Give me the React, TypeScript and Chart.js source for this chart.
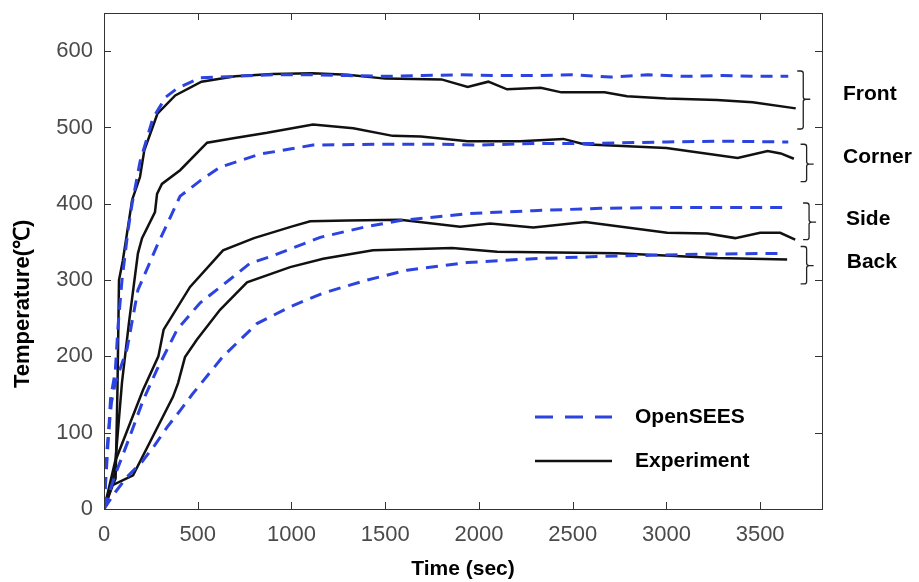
import React, { useEffect, useRef } from 'react';
import { Chart, registerables } from 'chart.js';

Chart.register(...registerables);

const FONT = '"Liberation Sans", Arial, Helvetica, sans-serif';

// ---- Data (time in sec, temperature in °C) ----
const frontSimTime = [0, 20, 35, 60, 75, 96, 128, 150, 192, 261, 330, 389, 512, 700, 900, 1100, 1300, 1500, 1700, 1900, 2100, 2300, 2500, 2700, 2900, 3100, 3300, 3500, 3650];
const frontSimTemp = [0, 80, 145, 180, 240, 300, 365, 400, 455, 512, 540, 551, 565, 567, 569, 569, 568, 567, 568, 569, 568, 568, 569, 566, 569, 567, 568, 567, 567];

const frontExpTime = [0, 45, 62, 72, 80, 100, 150, 192, 215, 285, 380, 520, 700, 900, 1110, 1300, 1500, 1800, 1940, 2050, 2150, 2330, 2440, 2670, 2790, 3000, 3270, 3460, 3690];
const frontExpTemp = [0, 30, 40, 160, 300, 325, 405, 435, 470, 518, 542, 560, 567, 570, 571, 569, 564, 563, 553, 560, 550, 552, 546, 546, 541, 538, 536, 533, 525];

const cornerSimTime = [0, 16, 40, 60, 123, 181, 283, 406, 512, 620, 830, 1000, 1115, 1500, 1800, 2000, 2300, 2600, 3000, 3300, 3650];
const cornerSimTemp = [0, 78, 140, 165, 210, 287, 345, 410, 430, 448, 465, 472, 477, 478, 478, 477, 479, 479, 481, 482, 481];

const cornerExpTime = [0, 55, 96, 133, 181, 203, 272, 283, 309, 406, 550, 690, 870, 1115, 1330, 1540, 1690, 1940, 2220, 2450, 2560, 3000, 3380, 3540, 3610, 3680];
const cornerExpTemp = [0, 45, 166, 244, 335, 355, 389, 413, 426, 444, 480, 486, 493, 504, 499, 489, 488, 482, 482, 485, 478, 473, 460, 469, 466, 459];

const sideSimTime = [0, 60, 130, 208, 283, 390, 512, 688, 779, 902, 1153, 1400, 1580, 1937, 2290, 2647, 3004, 3623];
const sideSimTemp = [0, 45, 90, 142, 183, 235, 270, 304, 322, 332, 356, 370, 378, 387, 391, 394, 395, 395];

const sideExpTime = [0, 59, 208, 290, 318, 459, 635, 800, 1000, 1100, 1300, 1580, 1900, 2060, 2290, 2567, 3004, 3218, 3367, 3500, 3607, 3687];
const sideExpTemp = [0, 62, 156, 200, 235, 291, 339, 355, 370, 377, 378, 379, 370, 374, 369, 376, 362, 361, 355, 362, 362, 353];

const backSimTime = [0, 60, 123, 203, 272, 336, 406, 470, 635, 816, 993, 1169, 1403, 1617, 1937, 2290, 2647, 3180, 3623];
const backSimTemp = [0, 22, 42, 62, 84, 107, 129, 150, 200, 243, 265, 283, 300, 313, 323, 328, 331, 334, 335];

const backExpTime = [0, 43, 155, 368, 395, 432, 496, 619, 763, 993, 1169, 1435, 1580, 1857, 2097, 2737, 3271, 3644];
const backExpTemp = [0, 31, 44, 147, 165, 199, 222, 261, 297, 317, 328, 339, 340, 342, 337, 335, 329, 327];

const xTickValues = [0, 500, 1000, 1500, 2000, 2500, 3000, 3500];
const yTickValues = [0, 100, 200, 300, 400, 500, 600];

// Bracket groups (temperature ranges) and labels
const groupLabels = ['Front', 'Corner', 'Side', 'Back'];
const groupTop = [574, 478, 401, 344];
const groupMid = [537, 452, 376, 319];
const groupBottom = [498, 429, 353, 295];
const groupBracketTime = [3730, 3748, 3761, 3748];
const groupLabelTime = [3942, 3942, 3958, 3962];
const groupLabelTemp = [543, 461, 380, 323];

const legendLabels = ['OpenSEES', 'Experiment'];

const SIM_COLOR = '#2c43e0';
const EXP_COLOR = '#111111';

function toXY(t: number[], v: number[]) {
  return t.map((x, i) => ({ x, y: v[i] }));
}

const decorPlugin = {
  id: 'decor',
  afterDraw(chart: any) {
    const { ctx, chartArea, scales } = chart;
    const xs = scales.x;
    const ys = scales.y;
    const { left, right, top, bottom } = chartArea;
    ctx.save();

    // Frame
    ctx.strokeStyle = '#333333';
    ctx.lineWidth = 1;
    ctx.setLineDash([]);
    ctx.strokeRect(left + 0.5, top + 0.5, right - left, bottom - top);

    // Inward ticks on all sides
    const tl = 7;
    ctx.beginPath();
    xTickValues.forEach((v) => {
      const px = Math.round(xs.getPixelForValue(v)) + 0.5;
      ctx.moveTo(px, bottom);
      ctx.lineTo(px, bottom - tl);
      ctx.moveTo(px, top);
      ctx.lineTo(px, top + tl);
    });
    yTickValues.forEach((v) => {
      const py = Math.round(ys.getPixelForValue(v)) + 0.5;
      ctx.moveTo(left, py);
      ctx.lineTo(left + tl, py);
      ctx.moveTo(right, py);
      ctx.lineTo(right - tl, py);
    });
    ctx.stroke();

    // Brackets and group labels
    ctx.strokeStyle = '#222222';
    ctx.lineWidth = 1.3;
    const r = 2.5;
    groupLabels.forEach((label, i) => {
      const xv = xs.getPixelForValue(groupBracketTime[i]);
      const xsr = xv - 6;
      const xt = xv + 7;
      const yT = ys.getPixelForValue(groupTop[i]);
      const yM = ys.getPixelForValue(groupMid[i]);
      const yB = ys.getPixelForValue(groupBottom[i]);
      ctx.beginPath();
      ctx.moveTo(xsr, yT);
      ctx.lineTo(xv - r, yT);
      ctx.quadraticCurveTo(xv, yT, xv, yT + r);
      ctx.lineTo(xv, yM - r);
      ctx.quadraticCurveTo(xv, yM, xv + r, yM);
      ctx.lineTo(xt, yM);
      ctx.moveTo(xv + r, yM);
      ctx.quadraticCurveTo(xv, yM, xv, yM + r);
      ctx.lineTo(xv, yB - r);
      ctx.quadraticCurveTo(xv, yB, xv - r, yB);
      ctx.lineTo(xsr, yB);
      ctx.stroke();

      ctx.fillStyle = '#000000';
      ctx.font = `bold 21px ${FONT}`;
      ctx.textAlign = 'left';
      ctx.textBaseline = 'middle';
      ctx.fillText(label, xs.getPixelForValue(groupLabelTime[i]), ys.getPixelForValue(groupLabelTemp[i]));
    });

    // Legend (inside plot, no box)
    const lx0 = left + 431;
    const lx1 = left + 508;
    const tx = left + 531;
    const ly1 = top + 404;
    const ly2 = top + 448;
    ctx.lineWidth = 3;
    ctx.strokeStyle = SIM_COLOR;
    ctx.setLineDash([18, 12]);
    ctx.beginPath();
    ctx.moveTo(lx0, ly1);
    ctx.lineTo(lx1, ly1);
    ctx.stroke();
    ctx.setLineDash([]);
    ctx.lineWidth = 2.5;
    ctx.strokeStyle = EXP_COLOR;
    ctx.beginPath();
    ctx.moveTo(lx0, ly2);
    ctx.lineTo(lx1, ly2);
    ctx.stroke();
    ctx.fillStyle = '#000000';
    ctx.font = `bold 21px ${FONT}`;
    ctx.textAlign = 'left';
    ctx.textBaseline = 'middle';
    ctx.fillText(legendLabels[0], tx, ly1);
    ctx.fillText(legendLabels[1], tx, ly2);

    // Y axis title
    ctx.save();
    ctx.translate(29, 388);
    ctx.rotate(-Math.PI / 2);
    ctx.textAlign = 'left';
    ctx.textBaseline = 'alphabetic';
    ctx.font = `bold 22px ${FONT}`;
    ctx.fillText('Temperature(℃)', 0, 0);
    ctx.restore();

    ctx.restore();
  },
};

export default function App() {
  const canvasRef = useRef<HTMLCanvasElement | null>(null);

  useEffect(() => {
    if (!canvasRef.current) return;
    const simStyle = {
      borderColor: SIM_COLOR,
      borderWidth: 3,
      borderDash: [12, 8],
      pointRadius: 0,
      tension: 0,
      fill: false,
      order: 0,
    };
    const expStyle = {
      borderColor: EXP_COLOR,
      borderWidth: 2.5,
      pointRadius: 0,
      tension: 0,
      fill: false,
      order: 1,
    };
    const chart = new Chart(canvasRef.current, {
      type: 'line',
      data: {
        datasets: [
          { label: 'Front OpenSEES', data: toXY(frontSimTime, frontSimTemp), ...simStyle },
          { label: 'Corner OpenSEES', data: toXY(cornerSimTime, cornerSimTemp), ...simStyle },
          { label: 'Side OpenSEES', data: toXY(sideSimTime, sideSimTemp), ...simStyle },
          { label: 'Back OpenSEES', data: toXY(backSimTime, backSimTemp), ...simStyle },
          { label: 'Front Experiment', data: toXY(frontExpTime, frontExpTemp), ...expStyle },
          { label: 'Corner Experiment', data: toXY(cornerExpTime, cornerExpTemp), ...expStyle },
          { label: 'Side Experiment', data: toXY(sideExpTime, sideExpTemp), ...expStyle },
          { label: 'Back Experiment', data: toXY(backExpTime, backExpTemp), ...expStyle },
        ],
      },
      options: {
        responsive: false,
        animation: false,
        devicePixelRatio: 1,
        layout: { padding: { left: 0, top: 13, right: 97, bottom: 0 } },
        plugins: {
          legend: { display: false },
          tooltip: { enabled: false },
        },
        scales: {
          x: {
            type: 'linear',
            min: 0,
            max: 3830,
            grid: { display: false, drawTicks: false },
            border: { display: false },
            ticks: {
              stepSize: 500,
              includeBounds: false,
              color: '#4a4a4a',
              font: { family: FONT, size: 22 },
              padding: 13,
              maxRotation: 0,
              callback: (v: any) => String(v),
            },
            title: {
              display: true,
              text: 'Time (sec)',
              color: '#000000',
              font: { family: FONT, size: 21, weight: 'bold' },
              padding: { top: 0, bottom: 0 },
            },
            afterBuildTicks: (s: any) => {
              s.ticks = xTickValues.map((v) => ({ value: v }));
            },
            afterFit: (s: any) => {
              s.height = 73;
              s.paddingLeft = 0;
              s.paddingRight = 0;
              s.paddingTop = 0;
              s.paddingBottom = 0;
            },
          },
          y: {
            type: 'linear',
            min: 0,
            max: 650,
            grid: { display: false, drawTicks: false },
            border: { display: false },
            ticks: {
              stepSize: 100,
              includeBounds: false,
              color: '#4a4a4a',
              font: { family: FONT, size: 22 },
              padding: 11,
              callback: (v: any) => String(v),
            },
            afterBuildTicks: (s: any) => {
              s.ticks = yTickValues.map((v) => ({ value: v }));
            },
            afterFit: (s: any) => {
              s.width = 104;
              s.paddingLeft = 0;
              s.paddingRight = 0;
              s.paddingTop = 0;
              s.paddingBottom = 0;
            },
          },
        },
      },
      plugins: [decorPlugin],
    } as any);
    return () => chart.destroy();
  }, []);

  return (
    <div style={{ position: 'fixed', left: 0, top: 0, width: 919, height: 582, background: '#ffffff' }}>
      <canvas ref={canvasRef} width={919} height={582} />
    </div>
  );
}
